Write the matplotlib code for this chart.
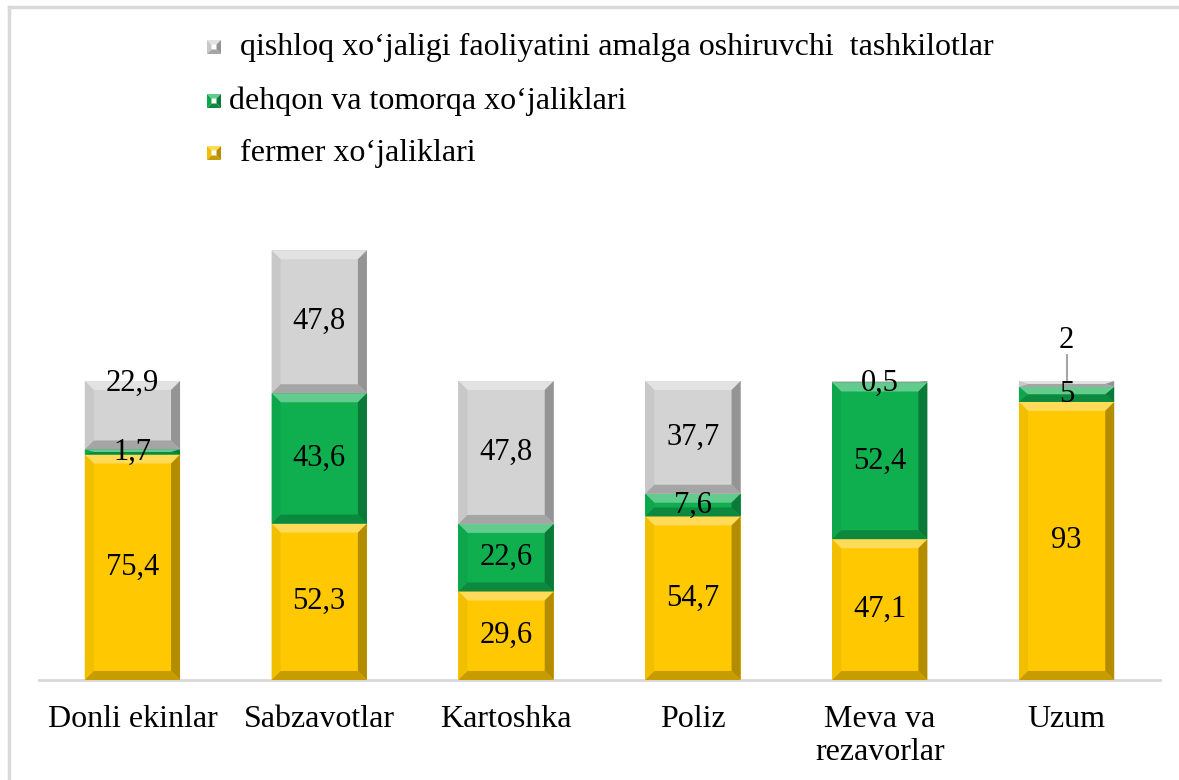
import numpy as np
import matplotlib.pyplot as plt
from matplotlib.patches import Polygon
from matplotlib.lines import Line2D
from matplotlib.colors import to_rgb

plt.rcParams['font.family'] = ['Liberation Serif', 'DejaVu Serif']

# data
categories = ["Donli ekinlar", "Sabzavotlar", "Kartoshka", "Poliz", "Meva va\nrezavorlar", "Uzum"]
fermer = [75.4, 52.3, 29.6, 54.7, 47.1, 93]
dehqon = [1.7, 43.6, 22.6, 7.6, 52.4, 5]
tashkilot = [22.9, 47.8, 47.8, 37.7, 0.5, 2]
series = [fermer, dehqon, tashkilot]
names = ["fermer xo‘jaliklari",
         "dehqon va tomorqa xo‘jaliklari",
         "qishloq xo‘jaligi faoliyatini amalga oshiruvchi  tashkilotlar"]
colors = ["#FFC800", "#0FAF50", "#D3D3D3"]


def shade(c, f):
    r = np.array(to_rgb(c))
    if f > 0:
        return tuple(r + (1 - r) * f)
    return tuple(r * (1 + f))


def bevel(add, x0, y0, w, h, color, bx, by, tr):
    bx = min(bx, w / 2)
    by = min(by, h / 2)
    x1, y1 = x0 + w, y0 + h
    ix0, ix1, iy0, iy1 = x0 + bx, x1 - bx, y0 + by, y1 - by
    faces = [
        ([(x0, y1), (x1, y1), (ix1, iy1), (ix0, iy1)], 0.35),
        ([(x0, y0), (x0, y1), (ix0, iy1), (ix0, iy0)], -0.05),
        ([(x1, y0), (x1, y1), (ix1, iy1), (ix1, iy0)], -0.3),
        ([(x0, y0), (x1, y0), (ix1, iy0), (ix0, iy0)], -0.22),
    ]
    for pts, f in faces:
        add(Polygon(pts, closed=True, facecolor=shade(color, f),
                    edgecolor='none', transform=tr, zorder=3))


W, H = 1179, 780
fig = plt.figure(figsize=(W / 100, H / 100), dpi=100)
ax = fig.add_axes([39 / W, 100 / H, (1160 - 39) / W, (680 - 22) / H])
ax.set_xlim(-0.5, 5.5)
ax.set_ylim(0, (680 - 22) / 2.99)

x = np.arange(len(categories))
bottom = np.zeros(len(categories))
px_x = (1160 - 39) / 6.0
for vals, c in zip(series, colors):
    bars = ax.bar(x, vals, bottom=bottom, width=0.51, color=c, zorder=2)
    for r in bars:
        bevel(ax.add_patch, r.get_x(), r.get_y(), r.get_width(), r.get_height(),
              c, 9 / px_x, 9 / 2.99, ax.transData)
    bottom = bottom + np.array(vals)

# value labels
overrides = {(0, 2): 99.3, (4, 2): 99.3, (5, 2): 113.7}
bottom = np.zeros(len(categories))
for s, vals in enumerate(series):
    for i, v in enumerate(vals):
        y = overrides.get((i, s), bottom[i] + v / 2)
        ax.text(i, y, f"{v:g}".replace('.', ','), ha='center', va='center',
                fontsize=22, zorder=5)
    bottom = bottom + np.array(vals)
ax.plot([5, 5], [100.4, 108.6], color='#A6A6A6', lw=1.5, zorder=4)

ax.set_xticks(x, categories, fontsize=23)
for t in ax.get_xticklabels():
    t.set_linespacing(1.2)
ax.tick_params(axis='x', length=0, pad=18)
ax.set_yticks([])
for s in ['top', 'left', 'right']:
    ax.spines[s].set_visible(False)
ax.spines['bottom'].set_color('#D9D9D9')
ax.spines['bottom'].set_linewidth(2)

# legend
leg_y = [153, 101, 47]
leg_tx = [240, 229, 240]
for name, c, yy, tx in zip(names, colors, leg_y, leg_tx):
    bevel(fig.add_artist, 207 / W, 1 - (yy + 7) / H, 14 / W, 14 / H, c,
          4.5 / W, 4.5 / H, fig.transFigure)
    fig.text(tx / W, 1 - yy / H, name, fontsize=23, va='center', ha='left')

# frame
fig.add_artist(Line2D([9 / W, 9 / W], [0, 1 - 7 / H], color='#D9D9D9', lw=2.5))
fig.add_artist(Line2D([9 / W, 1], [1 - 7 / H, 1 - 7 / H], color='#D9D9D9', lw=2.5))

fig.savefig("out.png", dpi=100)
